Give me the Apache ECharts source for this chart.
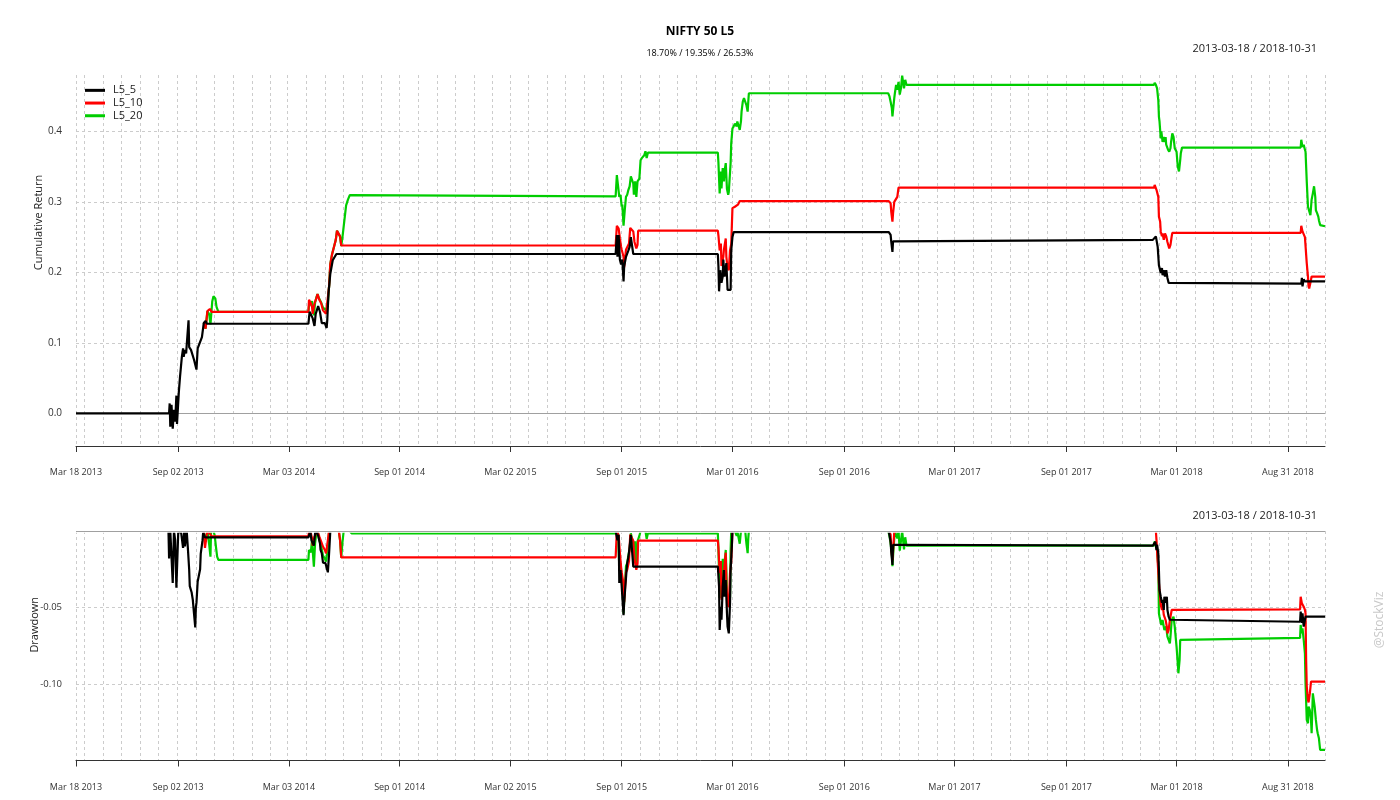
<!DOCTYPE html>
<html>
<head>
<meta charset="utf-8">
<title>NIFTY 50 L5</title>
<script src="https://cdn.jsdelivr.net/npm/echarts@6/dist/echarts.min.js"></script>
<style>
  html, body { margin: 0; padding: 0; background: #fff; }
  #chart { width: 1400px; height: 800px; }
</style>
</head>
<body>
<div id="chart"></div>
<script>
const startDate = '2013-03-18';
const endDate = '2018-10-31';
const seriesNames = ['L5_5', 'L5_10', 'L5_20'];
const seriesColors = ['#000000', '#ff0000', '#00cd00'];
const tickDates = ['2013-03-18', '2013-09-02', '2014-03-03', '2014-09-01', '2015-03-02', '2015-09-01',
  '2016-03-01', '2016-09-01', '2017-03-01', '2017-09-01', '2018-03-01', '2018-08-31'];
const returnTicks = [0, 0.1, 0.2, 0.3, 0.4];
const subtitleText = '18.70% / 19.35% / 26.53%';

// cumulative return
const l5_5Return = [
  ['2013-03-18', 0], ['2013-08-18', 0], ['2013-08-19', 0.014], ['2013-08-20', -0.019], ['2013-08-22', 0.012],
  ['2013-08-24', -0.022], ['2013-08-26', 0.005], ['2013-08-28', -0.012], ['2013-08-30', 0.025], ['2013-08-31', -0.015],
  ['2013-09-03', 0.03], ['2013-09-05', 0.052], ['2013-09-08', 0.080], ['2013-09-10', 0.092], ['2013-09-11', 0.080],
  ['2013-09-13', 0.090], ['2013-09-15', 0.085], ['2013-09-19', 0.132], ['2013-09-20', 0.094], ['2013-09-23', 0.090],
  ['2013-09-26', 0.088], ['2013-09-28', 0.076], ['2013-10-02', 0.062], ['2013-10-04', 0.092], ['2013-10-07', 0.094],
  ['2013-10-11', 0.108], ['2013-10-14', 0.128], ['2013-10-17', 0.131], ['2013-10-19', 0.127],
  ['2014-04-04', 0.127], ['2014-04-06', 0.144], ['2014-04-11', 0.135], ['2014-04-14', 0.124], ['2014-04-16', 0.141],
  ['2014-04-20', 0.152], ['2014-04-23', 0.144], ['2014-04-26', 0.128], ['2014-04-28', 0.130], ['2014-05-01', 0.128],
  ['2014-05-04', 0.121], ['2014-05-05', 0.132], ['2014-05-07', 0.170], ['2014-05-10', 0.198], ['2014-05-14', 0.217],
  ['2014-05-20', 0.226],
  ['2015-08-22', 0.226], ['2015-08-24', 0.253], ['2015-08-25', 0.222], ['2015-08-27', 0.253], ['2015-08-29', 0.218],
  ['2015-08-31', 0.211], ['2015-09-02', 0.218], ['2015-09-04', 0.187], ['2015-09-05', 0.208], ['2015-09-08', 0.222],
  ['2015-09-10', 0.224], ['2015-09-12', 0.231], ['2015-09-14', 0.236], ['2015-09-16', 0.250], ['2015-09-18', 0.252],
  ['2015-09-20', 0.226],
  ['2016-02-06', 0.226], ['2016-02-07', 0.208], ['2016-02-08', 0.173], ['2016-02-10', 0.203], ['2016-02-12', 0.185],
  ['2016-02-14', 0.194], ['2016-02-15', 0.218], ['2016-02-17', 0.194], ['2016-02-20', 0.213], ['2016-02-22', 0.175],
  ['2016-02-24', 0.173], ['2016-02-27', 0.175], ['2016-02-28', 0.231], ['2016-03-01', 0.250], ['2016-03-03', 0.257],
  ['2016-11-13', 0.257], ['2016-11-16', 0.253], ['2016-11-17', 0.244], ['2016-11-19', 0.229], ['2016-11-20', 0.244],
  ['2016-11-23', 0.246],
  ['2018-01-21', 0.246], ['2018-01-24', 0.248], ['2018-01-26', 0.251], ['2018-01-29', 0.236], ['2018-01-31', 0.210],
  ['2018-02-01', 0.208], ['2018-02-03', 0.199], ['2018-02-05', 0.206], ['2018-02-06', 0.196], ['2018-02-08', 0.203],
  ['2018-02-10', 0.194], ['2018-02-12', 0.203], ['2018-02-14', 0.192], ['2018-02-16', 0.185], ['2018-02-19', 0.184],
  ['2018-09-22', 0.184], ['2018-09-23', 0.192], ['2018-09-24', 0.180], ['2018-09-26', 0.190], ['2018-09-28', 0.187],
  ['2018-10-31', 0.187]
];

const l5_10Return = [
  ['2013-10-14', 0.128], ['2013-10-17', 0.120], ['2013-10-20', 0.145], ['2013-10-24', 0.148], ['2013-10-27', 0.144],
  ['2014-04-04', 0.144], ['2014-04-05', 0.161], ['2014-04-08', 0.156], ['2014-04-10', 0.151], ['2014-04-11', 0.141],
  ['2014-04-14', 0.156], ['2014-04-17', 0.163], ['2014-04-19', 0.169], ['2014-04-22', 0.161], ['2014-04-25', 0.156],
  ['2014-04-28', 0.146], ['2014-05-01', 0.144], ['2014-05-03', 0.141], ['2014-05-08', 0.180], ['2014-05-10', 0.212],
  ['2014-05-13', 0.226], ['2014-05-16', 0.236], ['2014-05-19', 0.246], ['2014-05-21', 0.259], ['2014-05-24', 0.259],
  ['2014-05-26', 0.251], ['2014-05-28', 0.238],
  ['2015-08-22', 0.238], ['2015-08-24', 0.266], ['2015-08-27', 0.262], ['2015-08-29', 0.248], ['2015-08-31', 0.236],
  ['2015-09-01', 0.232], ['2015-09-04', 0.222], ['2015-09-05', 0.207], ['2015-09-08', 0.232], ['2015-09-10', 0.234],
  ['2015-09-13', 0.241], ['2015-09-15', 0.263], ['2015-09-18', 0.264], ['2015-09-20', 0.258], ['2015-09-22', 0.243],
  ['2015-09-25', 0.234], ['2015-09-27', 0.239], ['2015-09-28', 0.259],
  ['2016-02-06', 0.259], ['2016-02-07', 0.252], ['2016-02-09', 0.231], ['2016-02-11', 0.241], ['2016-02-12', 0.209],
  ['2016-02-15', 0.222], ['2016-02-16', 0.232], ['2016-02-19', 0.248], ['2016-02-20', 0.222], ['2016-02-22', 0.206],
  ['2016-02-24', 0.203], ['2016-02-26', 0.231], ['2016-02-28', 0.240], ['2016-03-01', 0.291], ['2016-03-05', 0.293],
  ['2016-03-08', 0.295], ['2016-03-10', 0.296], ['2016-03-13', 0.301],
  ['2016-11-13', 0.301], ['2016-11-16', 0.298], ['2016-11-17', 0.286], ['2016-11-19', 0.272], ['2016-11-20', 0.284],
  ['2016-11-22', 0.300], ['2016-11-27', 0.307], ['2016-11-29', 0.320],
  ['2018-01-23', 0.320], ['2018-01-24', 0.324], ['2018-01-27', 0.317], ['2018-01-30', 0.307], ['2018-01-31', 0.279],
  ['2018-02-02', 0.272], ['2018-02-03', 0.258], ['2018-02-05', 0.251], ['2018-02-06', 0.255], ['2018-02-08', 0.246],
  ['2018-02-10', 0.255], ['2018-02-12', 0.251], ['2018-02-14', 0.243], ['2018-02-17', 0.234], ['2018-02-19', 0.239],
  ['2018-02-21', 0.251], ['2018-02-22', 0.256],
  ['2018-09-21', 0.256], ['2018-09-22', 0.266], ['2018-09-24', 0.258], ['2018-09-26', 0.260], ['2018-09-28', 0.250],
  ['2018-09-30', 0.250], ['2018-10-01', 0.213], ['2018-10-03', 0.194], ['2018-10-04', 0.180], ['2018-10-05', 0.177],
  ['2018-10-07', 0.185], ['2018-10-09', 0.194], ['2018-10-31', 0.194]
];

const l5_20Return = [
  ['2013-10-14', 0.128], ['2013-10-17', 0.120], ['2013-10-20', 0.145], ['2013-10-23', 0.140], ['2013-10-25', 0.126],
  ['2013-10-28', 0.159], ['2013-10-30', 0.166], ['2013-11-02', 0.163], ['2013-11-04', 0.151], ['2013-11-07', 0.144],
  ['2014-04-04', 0.144], ['2014-04-05', 0.152], ['2014-04-08', 0.150], ['2014-04-10', 0.159], ['2014-04-11', 0.152],
  ['2014-04-13', 0.139], ['2014-04-15', 0.157], ['2014-04-17', 0.164], ['2014-04-19', 0.169], ['2014-04-22', 0.162],
  ['2014-04-25', 0.157], ['2014-04-28', 0.150], ['2014-05-01', 0.148], ['2014-05-03', 0.146], ['2014-05-06', 0.157],
  ['2014-05-08', 0.180], ['2014-05-10', 0.212], ['2014-05-13', 0.226], ['2014-05-16', 0.236], ['2014-05-19', 0.246],
  ['2014-05-21', 0.259], ['2014-05-24', 0.259], ['2014-05-26', 0.251], ['2014-05-28', 0.237], ['2014-05-30', 0.250],
  ['2014-06-01', 0.265], ['2014-06-03', 0.280], ['2014-06-05', 0.295], ['2014-06-08', 0.303], ['2014-06-11', 0.3095],
  ['2014-06-14', 0.3077],
  ['2015-08-22', 0.3077], ['2015-08-24', 0.338], ['2015-08-26', 0.336], ['2015-08-28', 0.307], ['2015-08-30', 0.310],
  ['2015-09-01', 0.293], ['2015-09-02', 0.296], ['2015-09-04', 0.266], ['2015-09-06', 0.288], ['2015-09-08', 0.307],
  ['2015-09-10', 0.310], ['2015-09-12', 0.317], ['2015-09-14', 0.322], ['2015-09-16', 0.336], ['2015-09-18', 0.336],
  ['2015-09-20', 0.326], ['2015-09-21', 0.310], ['2015-09-23', 0.329], ['2015-09-25', 0.307], ['2015-09-27', 0.329],
  ['2015-09-30', 0.333], ['2015-10-02', 0.359], ['2015-10-04', 0.362], ['2015-10-08', 0.366], ['2015-10-10', 0.3717],
  ['2015-10-12', 0.362], ['2015-10-14', 0.3697],
  ['2016-02-06', 0.3697], ['2016-02-07', 0.355], ['2016-02-09', 0.312], ['2016-02-11', 0.343], ['2016-02-12', 0.319],
  ['2016-02-14', 0.348], ['2016-02-16', 0.329], ['2016-02-17', 0.343], ['2016-02-19', 0.355], ['2016-02-21', 0.318],
  ['2016-02-23', 0.310], ['2016-02-24', 0.314], ['2016-02-26', 0.312], ['2016-02-27', 0.355], ['2016-02-28', 0.383],
  ['2016-03-01', 0.404], ['2016-03-03', 0.407], ['2016-03-05', 0.411], ['2016-03-08', 0.407], ['2016-03-09', 0.414],
  ['2016-03-11', 0.414], ['2016-03-13', 0.402], ['2016-03-15', 0.414], ['2016-03-16', 0.428], ['2016-03-18', 0.442],
  ['2016-03-20', 0.447], ['2016-03-22', 0.449], ['2016-03-24', 0.437], ['2016-03-26', 0.428], ['2016-03-27', 0.442],
  ['2016-03-28', 0.454],
  ['2016-11-12', 0.454], ['2016-11-14', 0.450], ['2016-11-16', 0.442], ['2016-11-18', 0.433], ['2016-11-19', 0.421],
  ['2016-11-20', 0.430], ['2016-11-22', 0.447], ['2016-11-23', 0.454], ['2016-11-25', 0.466], ['2016-11-27', 0.459],
  ['2016-11-29', 0.470], ['2016-12-01', 0.452], ['2016-12-03', 0.461], ['2016-12-05', 0.479], ['2016-12-06', 0.473],
  ['2016-12-08', 0.461], ['2016-12-10', 0.473], ['2016-12-12', 0.466],
  ['2018-01-23', 0.466], ['2018-01-24', 0.469], ['2018-01-26', 0.466], ['2018-01-28', 0.461], ['2018-01-30', 0.444],
  ['2018-01-31', 0.421], ['2018-02-01', 0.414], ['2018-02-03', 0.390], ['2018-02-04', 0.400], ['2018-02-06', 0.385],
  ['2018-02-08', 0.392], ['2018-02-10', 0.385], ['2018-02-11', 0.392], ['2018-02-12', 0.381], ['2018-02-15', 0.374],
  ['2018-02-17', 0.371], ['2018-02-19', 0.376], ['2018-02-20', 0.385], ['2018-02-22', 0.397], ['2018-02-24', 0.392],
  ['2018-02-26', 0.376], ['2018-03-01', 0.371], ['2018-03-03', 0.350], ['2018-03-05', 0.343], ['2018-03-07', 0.359],
  ['2018-03-08', 0.369], ['2018-03-10', 0.377],
  ['2018-09-21', 0.377], ['2018-09-22', 0.388], ['2018-09-24', 0.378], ['2018-09-26', 0.381], ['2018-09-28', 0.374],
  ['2018-09-29', 0.371], ['2018-10-01', 0.329], ['2018-10-03', 0.293], ['2018-10-04', 0.291], ['2018-10-07', 0.281],
  ['2018-10-09', 0.303], ['2018-10-11', 0.312], ['2018-10-13', 0.322], ['2018-10-15', 0.307], ['2018-10-16', 0.288],
  ['2018-10-18', 0.284], ['2018-10-20', 0.279], ['2018-10-21', 0.274], ['2018-10-23', 0.267], ['2018-10-31', 0.2653]
];

// drawdown
const l5_5Drawdown = [
  ['2013-03-18', 0], ['2013-08-17', 0], ['2013-08-18', -0.018], ['2013-08-20', 0], ['2013-08-21', 0],
  ['2013-08-24', -0.034], ['2013-08-25', -0.034], ['2013-08-26', 0], ['2013-08-28', -0.006], ['2013-08-30', -0.037],
  ['2013-09-01', -0.037], ['2013-09-02', -0.0015], ['2013-09-04', 0], ['2013-09-07', -0.0015], ['2013-09-10', -0.011],
  ['2013-09-12', 0], ['2013-09-13', -0.010], ['2013-09-16', 0], ['2013-09-18', -0.012], ['2013-09-20', -0.025],
  ['2013-09-21', -0.036], ['2013-09-24', -0.040], ['2013-09-26', -0.045], ['2013-09-28', -0.054], ['2013-09-30', -0.063],
  ['2013-10-01', -0.050], ['2013-10-02', -0.047], ['2013-10-04', -0.033], ['2013-10-06', -0.033], ['2013-10-08', -0.025],
  ['2013-10-09', -0.015], ['2013-10-12', -0.006], ['2013-10-13', -0.001], ['2013-10-16', -0.0042],
  ['2014-04-04', -0.0042], ['2014-04-05', -0.003], ['2014-04-07', 0], ['2014-04-09', -0.006], ['2014-04-11', -0.007],
  ['2014-04-13', -0.0095], ['2014-04-15', -0.0015], ['2014-04-17', 0], ['2014-04-19', 0], ['2014-04-20', -0.003],
  ['2014-04-23', -0.008], ['2014-04-24', -0.0124], ['2014-04-26', -0.0146], ['2014-04-28', -0.0207], ['2014-04-30', -0.021],
  ['2014-05-02', -0.021], ['2014-05-05', -0.0255], ['2014-05-06', -0.027], ['2014-05-08', -0.0146], ['2014-05-10', 0],
  ['2015-08-22', 0], ['2015-08-23', -0.0004], ['2015-08-25', -0.006], ['2015-08-27', -0.0025], ['2015-08-28', -0.034],
  ['2015-08-30', -0.0255], ['2015-09-01', -0.0364], ['2015-09-02', -0.043], ['2015-09-04', -0.055], ['2015-09-05', -0.047],
  ['2015-09-07', -0.036], ['2015-09-09', -0.0255], ['2015-09-10', -0.021], ['2015-09-12', -0.017], ['2015-09-14', -0.0102],
  ['2015-09-16', -0.0026], ['2015-09-18', -0.0026], ['2015-09-20', -0.0233],
  ['2016-02-06', -0.0233], ['2016-02-08', -0.0364], ['2016-02-09', -0.0647], ['2016-02-11', -0.0495], ['2016-02-12', -0.058],
  ['2016-02-14', -0.0364], ['2016-02-16', -0.0255], ['2016-02-17', -0.043], ['2016-02-19', -0.032], ['2016-02-21', -0.0538],
  ['2016-02-22', -0.0625], ['2016-02-24', -0.0669], ['2016-02-26', -0.0473], ['2016-02-27', -0.0255], ['2016-02-29', -0.0102],
  ['2016-03-01', 0],
  ['2016-11-13', 0], ['2016-11-16', -0.007], ['2016-11-17', -0.0135], ['2016-11-19', -0.0222], ['2016-11-20', -0.009],
  ['2016-11-22', -0.0096],
  ['2018-01-21', -0.0096], ['2018-01-23', -0.009], ['2018-01-25', -0.007], ['2018-01-26', -0.0059], ['2018-01-27', -0.0124],
  ['2018-01-28', -0.009], ['2018-01-30', -0.0146], ['2018-01-31', -0.0255], ['2018-02-01', -0.0386], ['2018-02-03', -0.043],
  ['2018-02-05', -0.047], ['2018-02-06', -0.045], ['2018-02-08', -0.0516], ['2018-02-09', -0.043], ['2018-02-11', -0.047],
  ['2018-02-13', -0.043], ['2018-02-14', -0.0516], ['2018-02-16', -0.056], ['2018-02-18', -0.058], ['2018-02-19', -0.0593],
  ['2018-09-20', -0.0593], ['2018-09-21', -0.0527], ['2018-09-23', -0.060], ['2018-09-24', -0.0538], ['2018-09-26', -0.0625],
  ['2018-09-28', -0.058], ['2018-09-29', -0.056], ['2018-10-31', -0.056]
];

const l5_10Drawdown = [
  ['2013-10-14', 0], ['2013-10-16', -0.011], ['2013-10-19', -0.002], ['2013-10-21', 0], ['2013-10-24', 0],
  ['2013-10-27', -0.0035],
  ['2014-04-04', -0.0035], ['2014-04-05', 0], ['2014-04-08', -0.0015], ['2014-04-10', -0.0048], ['2014-04-11', -0.0095],
  ['2014-04-14', -0.0037], ['2014-04-17', -0.0015], ['2014-04-19', 0], ['2014-04-22', -0.0037], ['2014-04-25', -0.007],
  ['2014-04-28', -0.0102], ['2014-05-01', -0.0124], ['2014-05-03', -0.0146], ['2014-05-06', -0.006], ['2014-05-08', 0],
  ['2014-05-24', 0], ['2014-05-26', -0.0059], ['2014-05-28', -0.0172],
  ['2015-08-22', -0.0172], ['2015-08-24', 0], ['2015-08-27', -0.0032], ['2015-08-29', -0.0142], ['2015-08-31', -0.0237],
  ['2015-09-01', -0.0269], ['2015-09-04', -0.0348], ['2015-09-05', -0.0466], ['2015-09-08', -0.0269], ['2015-09-10', -0.0253],
  ['2015-09-13', -0.0197], ['2015-09-15', -0.0024], ['2015-09-18', -0.0016], ['2015-09-20', -0.0063], ['2015-09-22', -0.0182],
  ['2015-09-25', -0.0253], ['2015-09-27', -0.0213], ['2015-09-28', -0.0063],
  ['2016-02-06', -0.0063], ['2016-02-07', -0.011], ['2016-02-09', -0.0276], ['2016-02-11', -0.0197], ['2016-02-12', -0.045],
  ['2016-02-15', -0.0348], ['2016-02-16', -0.0269], ['2016-02-19', -0.0142], ['2016-02-20', -0.0348], ['2016-02-22', -0.0474],
  ['2016-02-24', -0.0498], ['2016-02-26', -0.0276], ['2016-02-28', -0.020], ['2016-03-01', 0],
  ['2016-11-13', 0], ['2016-11-16', -0.0023], ['2016-11-17', -0.0115], ['2016-11-19', -0.019], ['2016-11-20', -0.013],
  ['2016-11-22', -0.0008], ['2016-11-27', 0],
  ['2018-01-26', 0], ['2018-01-27', -0.0059], ['2018-01-28', -0.0135], ['2018-01-30', -0.0146], ['2018-01-31', -0.034],
  ['2018-02-01', -0.0386], ['2018-02-03', -0.0484], ['2018-02-05', -0.0516], ['2018-02-06', -0.0473], ['2018-02-08', -0.0549],
  ['2018-02-09', -0.056], ['2018-02-11', -0.0582], ['2018-02-13', -0.0625], ['2018-02-14', -0.0669], ['2018-02-16', -0.0647],
  ['2018-02-18', -0.0582], ['2018-02-19', -0.056], ['2018-02-21', -0.0516], ['2018-02-22', -0.0512],
  ['2018-09-20', -0.0512], ['2018-09-21', -0.043], ['2018-09-23', -0.0473], ['2018-09-24', -0.0462], ['2018-09-26', -0.0495],
  ['2018-09-28', -0.0516], ['2018-09-29', -0.0538], ['2018-09-30', -0.0843], ['2018-10-01', -0.1015], ['2018-10-03', -0.1105],
  ['2018-10-04', -0.112], ['2018-10-06', -0.1065], ['2018-10-08', -0.0985], ['2018-10-31', -0.0985]
];

const l5_20Drawdown = [
  ['2013-10-14', 0], ['2013-10-17', -0.007], ['2013-10-20', 0], ['2013-10-23', -0.009], ['2013-10-25', -0.0168],
  ['2013-10-26', 0], ['2013-10-30', 0], ['2013-11-01', -0.003], ['2013-11-03', -0.0102], ['2013-11-05', -0.0168],
  ['2013-11-07', -0.0189],
  ['2014-04-04', -0.0189], ['2014-04-05', -0.0124], ['2014-04-08', -0.014], ['2014-04-10', -0.006], ['2014-04-11', -0.0124],
  ['2014-04-13', -0.0233], ['2014-04-15', -0.008], ['2014-04-17', -0.0015], ['2014-04-19', 0], ['2014-04-22', -0.006],
  ['2014-04-25', -0.010], ['2014-04-28', -0.016], ['2014-05-01', -0.018], ['2014-05-03', -0.020], ['2014-05-06', -0.010],
  ['2014-05-08', 0], ['2014-05-24', 0], ['2014-05-26', -0.006], ['2014-05-28', -0.0175], ['2014-05-30', -0.0072],
  ['2014-06-01', 0], ['2014-06-11', 0], ['2014-06-14', -0.0015],
  ['2015-08-22', -0.0015], ['2015-08-24', 0], ['2015-08-26', -0.0015], ['2015-08-28', -0.023], ['2015-08-30', -0.021],
  ['2015-09-01', -0.0335], ['2015-09-02', -0.032], ['2015-09-04', -0.054], ['2015-09-06', -0.037], ['2015-09-08', -0.023],
  ['2015-09-10', -0.021], ['2015-09-12', -0.0158], ['2015-09-14', -0.0122], ['2015-09-16', -0.0015], ['2015-09-18', -0.0015],
  ['2015-09-20', -0.0088], ['2015-09-21', -0.021], ['2015-09-23', -0.0067], ['2015-09-25', -0.023], ['2015-09-27', -0.0067],
  ['2015-09-30', -0.0032], ['2015-10-02', 0], ['2015-10-10', 0], ['2015-10-12', -0.0052], ['2015-10-14', -0.0015],
  ['2016-02-06', -0.0015], ['2016-02-07', -0.0124], ['2016-02-09', -0.0437], ['2016-02-11', -0.0211], ['2016-02-12', -0.0386],
  ['2016-02-14', -0.0182], ['2016-02-16', -0.0321], ['2016-02-17', -0.0211], ['2016-02-19', -0.0124], ['2016-02-21', -0.0394],
  ['2016-02-23', -0.0455], ['2016-02-24', -0.042], ['2016-02-26', -0.0437], ['2016-02-27', -0.0124], ['2016-02-28', 0],
  ['2016-03-05', 0], ['2016-03-08', -0.0031], ['2016-03-09', 0], ['2016-03-13', -0.0083], ['2016-03-15', 0],
  ['2016-03-22', 0], ['2016-03-24', -0.0083], ['2016-03-26', -0.0145], ['2016-03-27', -0.0048], ['2016-03-28', 0],
  ['2016-11-12', 0], ['2016-11-14', -0.003], ['2016-11-16', -0.0083], ['2016-11-18', -0.0148], ['2016-11-19', -0.023],
  ['2016-11-20', -0.0165], ['2016-11-22', -0.0048], ['2016-11-23', 0], ['2016-11-25', 0], ['2016-11-27', -0.0049],
  ['2016-11-29', 0], ['2016-12-01', -0.0128], ['2016-12-03', -0.0064], ['2016-12-05', 0], ['2016-12-06', -0.0041],
  ['2016-12-08', -0.012], ['2016-12-10', -0.0041], ['2016-12-12', -0.0095],
  ['2018-01-23', -0.0095], ['2018-01-24', -0.0068], ['2018-01-26', -0.0091], ['2018-01-28', -0.0122], ['2018-01-30', -0.0233],
  ['2018-01-31', -0.0538], ['2018-02-01', -0.056], ['2018-02-04', -0.0614], ['2018-02-06', -0.0582], ['2018-02-09', -0.0647],
  ['2018-02-12', -0.0625], ['2018-02-14', -0.0691], ['2018-02-18', -0.0734], ['2018-02-19', -0.0691], ['2018-02-21', -0.0582],
  ['2018-02-24', -0.056], ['2018-02-26', -0.0625], ['2018-02-27', -0.0669], ['2018-03-01', -0.0756], ['2018-03-03', -0.0865],
  ['2018-03-04', -0.093], ['2018-03-06', -0.0843], ['2018-03-07', -0.0712], ['2018-03-10', -0.0699],
  ['2018-09-20', -0.0699], ['2018-09-21', -0.0614], ['2018-09-23', -0.0669], ['2018-09-24', -0.0636], ['2018-09-26', -0.0712],
  ['2018-09-28', -0.080], ['2018-09-29', -0.0995], ['2018-10-01', -0.1235], ['2018-10-03', -0.1257], ['2018-10-04', -0.1148],
  ['2018-10-06', -0.117], ['2018-10-08', -0.1235], ['2018-10-09', -0.1322], ['2018-10-11', -0.1061], ['2018-10-13', -0.105],
  ['2018-10-14', -0.1148], ['2018-10-16', -0.1235], ['2018-10-18', -0.1301], ['2018-10-19', -0.1322], ['2018-10-21', -0.1355],
  ['2018-10-23', -0.1431], ['2018-10-31', -0.1431]
];

const FONT = '"Open Sans", "DejaVu Sans", sans-serif';
const monthNames = ['Jan', 'Feb', 'Mar', 'Apr', 'May', 'Jun', 'Jul', 'Aug', 'Sep', 'Oct', 'Nov', 'Dec'];
// dates become epoch numbers so a plain value axis can place them
const toTime = d => echarts.time.parse(d).getTime();
const withTime = rows => rows.map(r => [toTime(r[0]), r[1]]);
const minTime = toTime(startDate);
const maxTime = toTime(endDate);
const tickTimes = tickDates.map(toTime);

// light dashed grid at each month start, plus both ends
const monthTimes = [minTime];
for (let y = 2013; y <= 2018; y++) {
  for (let m = 1; m <= 12; m++) {
    const t = toTime(y + '-' + String(m).padStart(2, '0') + '-01');
    if (t > minTime && t < maxTime) monthTimes.push(t);
  }
}
monthTimes.push(maxTime);

function formatTick(value) {
  const d = new Date(value);
  return monthNames[d.getMonth()] + ' ' + String(d.getDate()).padStart(2, '0') + ' ' + d.getFullYear();
}

const gridDash = { color: '#cccccc', type: [3, 3], width: 1 };

function labelAxis(gridIndex) {
  return {
    type: 'value', gridIndex: gridIndex, position: 'bottom', min: minTime, max: maxTime, scale: true,
    axisLine: { show: true, onZero: false, lineStyle: { color: '#333', width: 1 } },
    axisTick: { show: true, customValues: tickTimes, length: 6, lineStyle: { color: '#333' } },
    axisLabel: { customValues: tickTimes, formatter: formatTick, fontSize: 9, color: '#333', fontFamily: FONT, margin: 22 },
    splitLine: { show: false }
  };
}

function gridAxis(gridIndex) {
  return {
    type: 'value', gridIndex: gridIndex, position: 'top', min: minTime, max: maxTime, scale: true,
    axisLine: { show: false, onZero: false },
    axisTick: { show: false, customValues: monthTimes },
    axisLabel: { show: false, customValues: monthTimes },
    splitLine: { show: true, lineStyle: gridDash }
  };
}

function lineSeries(name, color, rows, xIdx, yIdx, z) {
  return {
    name: name, type: 'line', xAxisIndex: xIdx, yAxisIndex: yIdx, z: z,
    data: withTime(rows), showSymbol: false, symbol: 'none', animation: false,
    lineStyle: { color: color, width: 2.2 }, itemStyle: { color: color },
    emphasis: { disabled: true }
  };
}

const chart = echarts.init(document.getElementById('chart'), null, { renderer: 'canvas' });

const greenReturn = lineSeries(seriesNames[2], seriesColors[2], l5_20Return, 0, 0, 2);
greenReturn.markLine = {
  silent: true, symbol: 'none', z: 1, animation: false,
  label: { show: false },
  lineStyle: { color: '#a0a0a0', width: 1, type: 'solid' },
  data: [{ yAxis: 0 }]
};

const blackDrawdown = lineSeries(seriesNames[0], seriesColors[0], l5_5Drawdown, 2, 1, 4);
blackDrawdown.markLine = {
  silent: true, symbol: 'none', z: 10, animation: false,
  label: { show: false },
  data: [
    { yAxis: 0, lineStyle: { color: '#ffffff', width: 3.5, type: 'solid' } },
    { yAxis: 0, lineStyle: { color: '#a0a0a0', width: 1, type: 'solid' } }
  ]
};

const option = {
  backgroundColor: '#ffffff',
  animation: false,
  textStyle: { fontFamily: FONT },
  title: [
    { text: 'NIFTY 50 L5', left: 'center', top: 21,
      textStyle: { fontSize: 12, fontWeight: 'bold', color: '#000', fontFamily: FONT } },
    { text: subtitleText, left: 'center', top: 44,
      textStyle: { fontSize: 9, fontWeight: 'normal', color: '#000', fontFamily: FONT } },
    { text: startDate + ' / ' + endDate, right: 78, top: 38,
      textStyle: { fontSize: 11, fontWeight: 'normal', color: '#222', fontFamily: FONT } },
    { text: startDate + ' / ' + endDate, right: 78, top: 505,
      textStyle: { fontSize: 11, fontWeight: 'normal', color: '#222', fontFamily: FONT } }
  ],
  legend: {
    data: seriesNames, orient: 'vertical', left: 85, top: 84, itemGap: 0, padding: 0,
    icon: 'rect', itemWidth: 20, itemHeight: 3,
    textStyle: { fontSize: 11, color: '#222', fontFamily: FONT, lineHeight: 12.7, padding: [0, 0, 0, 3] },
    selectedMode: false
  },
  grid: [
    { left: 76, right: 75, top: 75, height: 371 },
    { left: 76, right: 75, top: 531, height: 229.5 }
  ],
  xAxis: [labelAxis(0), gridAxis(0), labelAxis(1), gridAxis(1)],
  yAxis: [
    {
      type: 'value', gridIndex: 0, min: -0.0464, max: 0.4799,
      name: 'Cumulative Return', nameLocation: 'middle', nameGap: 32, nameMoveOverlap: false,
      nameTextStyle: { fontSize: 11, color: '#222', fontFamily: FONT, padding: [0, 0, 0, 76] },
      axisLine: { show: false },
      axisTick: { show: false, customValues: returnTicks },
      axisLabel: { customValues: returnTicks, formatter: v => v.toFixed(1), fontSize: 10, color: '#333', fontFamily: FONT, margin: 14 },
      splitLine: { show: true, lineStyle: gridDash }
    },
    {
      type: 'value', gridIndex: 1, min: -0.15, max: 0, interval: 0.05,
      name: 'Drawdown', nameLocation: 'middle', nameGap: 36, nameMoveOverlap: false,
      nameTextStyle: { fontSize: 11, color: '#222', fontFamily: FONT, padding: [0, 0, 0, 42] },
      axisLine: { show: false },
      axisTick: { show: false },
      axisLabel: {
        fontSize: 9.5, color: '#333', fontFamily: FONT, margin: 14,
        formatter: v => (Math.abs(v + 0.05) < 1e-6 ? '-0.05' : (Math.abs(v + 0.1) < 1e-6 ? '-0.10' : ''))
      },
      splitLine: { show: true, lineStyle: gridDash }
    }
  ],
  graphic: [
    {
      type: 'text', x: 1380, y: 620, rotation: Math.PI / 2, silent: true,
      style: { text: '@StockViz', fill: '#c8c8c8', font: '12px ' + FONT, textAlign: 'center', textVerticalAlign: 'middle' }
    }
  ],
  series: [
    lineSeries(seriesNames[0], seriesColors[0], l5_5Return, 0, 0, 4),
    lineSeries(seriesNames[1], seriesColors[1], l5_10Return, 0, 0, 3),
    greenReturn,
    blackDrawdown,
    lineSeries(seriesNames[1], seriesColors[1], l5_10Drawdown, 2, 1, 3),
    lineSeries(seriesNames[2], seriesColors[2], l5_20Drawdown, 2, 1, 2)
  ]
};

chart.setOption(option);
window.addEventListener('resize', function () {
  chart.resize();
});
</script>
</body>
</html>
